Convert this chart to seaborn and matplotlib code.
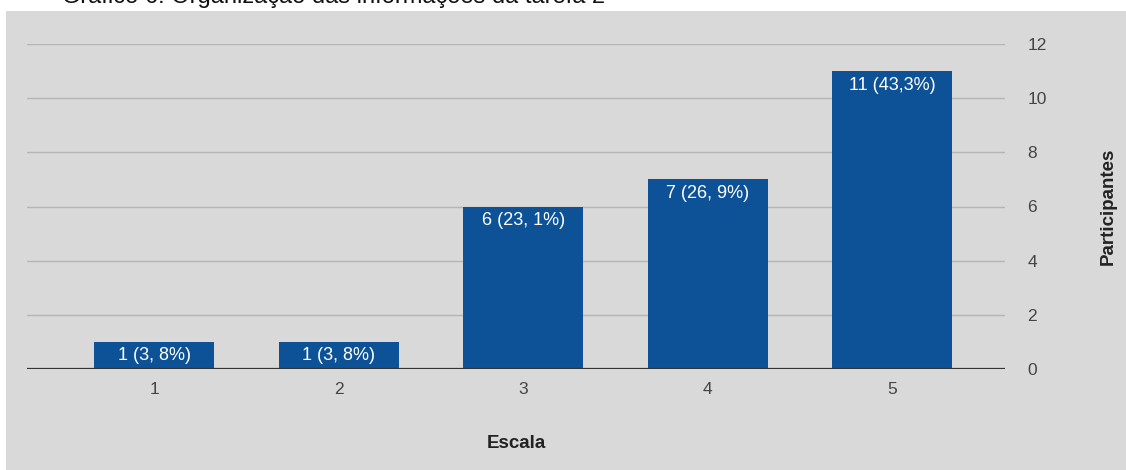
import matplotlib
matplotlib.use("Agg")
import matplotlib.pyplot as plt
import seaborn as sns
import pandas as pd
from matplotlib.patches import Rectangle

categories = ["1", "2", "3", "4", "5"]
values = [1, 1, 6, 7, 11]
labels = ["1 (3, 8%)", "1 (3, 8%)", "6 (23, 1%)", "7 (26, 9%)", "11 (43,3%)"]
yticks = [0, 2, 4, 6, 8, 10, 12]
title = "Gráfico 6: Organização das informações da tarefa 2"

sns.set_theme(style="white")
plt.rcParams['font.family'] = ['Liberation Sans', 'DejaVu Sans']

W, H = 1126, 470
fig = plt.figure(figsize=(W / 100, H / 100), dpi=100, facecolor="white")
bg = "#d9d9d9"
rect = Rectangle((6 / W, 0), 1 - 6 / W, 1 - 11 / H,
                 transform=fig.transFigure, facecolor=bg,
                 edgecolor="none", zorder=-10)
fig.patches.append(rect)

left, right = 27 / W, 1005 / W
bottom, top = 1 - 369 / H, 1 - 44 / H
ax = fig.add_axes([left, bottom, right - left, top - bottom], zorder=1)
ax.set_facecolor(bg)
ax.patch.set_alpha(0)

df = pd.DataFrame({"Escala": categories, "Participantes": values})
sns.barplot(data=df, x="Escala", y="Participantes", order=categories,
            color="#0d5296", saturation=1, width=0.65, ax=ax, zorder=3,
            linewidth=0, edgecolor="none")

ax.set_ylim(0, 12)
ax.set_xlim(-0.69, 4.61)
ax.yaxis.tick_right()
ax.yaxis.set_label_position("right")
ax.set_yticks(yticks)
ax.set_yticklabels([str(t) for t in yticks])
ax.tick_params(axis="y", length=0, pad=16, labelsize=12.5, labelcolor="#444444")
ax.tick_params(axis="x", length=0, pad=9, labelsize=12.5, labelcolor="#444444")
ax.grid(axis="y", color="#b5b5b5", linewidth=1, zorder=1)
ax.set_axisbelow(True)
ax.axhline(0, color="#333333", linewidth=1.6, zorder=4)
for s in ax.spines.values():
    s.set_visible(False)

ax.set_xlabel("Escala", fontsize=13.5, fontweight="bold", color="#222222", labelpad=28)
ax.set_ylabel("Participantes", fontsize=13.5, fontweight="bold", color="#222222",
              labelpad=38)

for i, (v, lab) in enumerate(zip(values, labels)):
    ax.annotate(lab, xy=(i, v), xytext=(0, -4), textcoords="offset points",
                ha="center", va="top", color="white", fontsize=13, zorder=5)

fig.text(62 / W, 1 - 3 / H, title, fontsize=17, color="#111111",
         ha="left", va="baseline")

fig.savefig("out.png", dpi=100, facecolor="white")
